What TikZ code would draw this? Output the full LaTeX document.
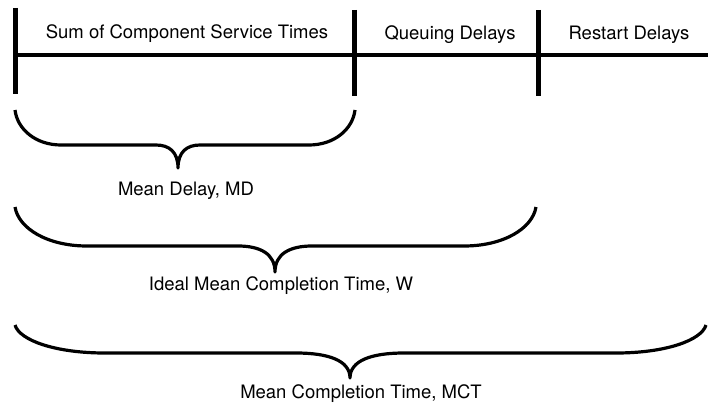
\documentclass[tikz,border=0pt]{standalone}
\usepackage{fontspec}
\setmainfont{TeX Gyre Heros}
\usetikzlibrary{positioning}

\tikzset{
  timeline/.style={line width=4pt},
  tickline/.style={line width=5pt},
  bracestroke/.style={line width=3.2pt, line join=round},
  lbl/.style={font=\fontsize{18.5}{22}\selectfont, inner sep=0pt, anchor=base}
}

% #1 left, #2 right, #3 tip x, #4 top y, #5 flat y, #6 tip y, #7 end width, #8 cusp width
\newcommand{\timebrace}[8]{%
  \draw[bracestroke] (#1,#4)
    .. controls ({#1+0.05*#7},{#4+0.55*(#5-#4)}) and ({#1+0.45*#7},#5) .. ({#1+#7},#5)
    -- ({#3-#8},#5)
    .. controls ({#3-0.4*#8},#5) and (#3,{#5+0.3*(#6-#5)}) .. (#3,#6)
    .. controls (#3,{#5+0.3*(#6-#5)}) and ({#3+0.4*#8},#5) .. ({#3+#8},#5)
    -- ({#2-#7},#5)
    .. controls ({#2-0.45*#7},#5) and ({#2-0.05*#7},{#4+0.55*(#5-#4)}) .. (#2,#4);
}

\begin{document}
\begin{tikzpicture}[x=1pt, y=-1pt]
    \useasboundingbox (0,0) rectangle (708,404);
    % Timeline
    \draw[timeline] (15,55) -- (708,55);
    \draw[tickline] (15,8) -- (15,94);
    \draw[tickline] (354,10) -- (354,96);
    \draw[tickline] (538,10) -- (538,96);
    % Segment labels
    \node[lbl] (sum) at (187,39) {Sum of Component Service Times};
    \node[lbl] (queue) at (450,40) {Queuing Delays};
    \node[lbl] (restart) at (629,40) {Restart Delays};
    % Braces
    \timebrace{15}{355}{178}{110}{145}{168}{46}{22}
    \timebrace{15}{536}{275}{207}{246}{272}{72}{37}
    \timebrace{15}{706}{350}{325}{353}{378}{90}{54}
    % Brace labels
    \node[lbl] (md) at (186,195) {Mean Delay, MD};
    \node[lbl] (w) at (281,290) {Ideal Mean Completion Time, W};
    \node[lbl] (mct) at (361,398) {Mean Completion Time, MCT};
\end{tikzpicture}
\end{document}
